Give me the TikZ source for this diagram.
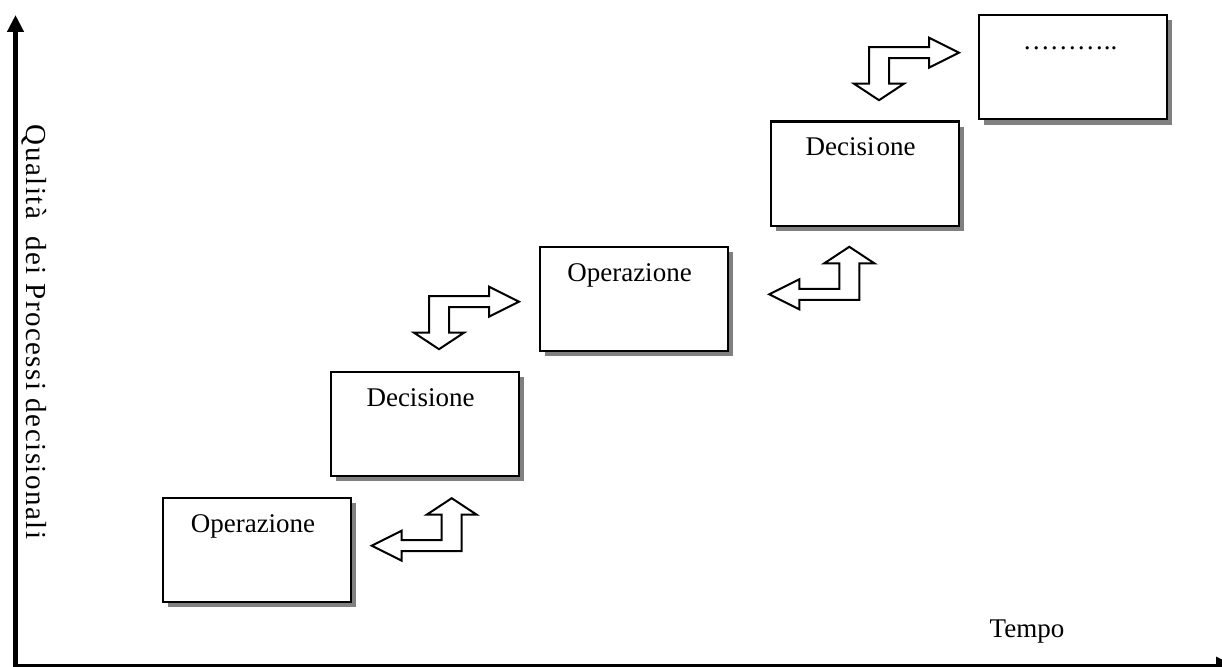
\documentclass[tikz,border=0pt]{standalone}
\usepackage{fontspec}
\setmainfont{Liberation Serif}
\usetikzlibrary{arrows.meta,shadows}
\definecolor{shadowgray}{RGB}{128,128,128}
\tikzset{
  stage/.style={draw=black, line width=2pt, fill=white, rectangle,
    minimum width=188pt, minimum height=104pt, inner sep=0pt, outer sep=0pt,
    drop shadow={shadow xshift=5pt, shadow yshift=-5pt, fill=shadowgray, opacity=1}},
  stagelabel/.style={anchor=base, inner sep=0pt, font=\fontsize{27}{32}\selectfont},
  axislabel/.style={inner sep=0pt, font=\fontsize{27}{32}\selectfont},
  axis/.style={draw=black, -{Triangle[length=17pt,width=16pt]}},
  arrowline/.style={draw=black, fill=white, line width=2pt, miter limit=10},
  bentarrow/.pic={
    \path[arrowline] (-80,0) -- (-50,-15) -- (-50,-5.5) -- (-10,-5.5) -- (-10,-31)
      -- (-25,-31) -- (0,-47.5) -- (25,-31) -- (10,-31) -- (10,5.5) -- (-50,5.5)
      -- (-50,15) -- cycle;
  }
}
\begin{document}
\begin{tikzpicture}[x=1pt, y=-1pt]
\useasboundingbox (0,0) rectangle (1222,666);

% axes
\coordinate (origin) at (15.5,665);
\coordinate (ytop) at (15.5,15);
\coordinate (xend) at (1233,665);
\draw[axis, line width=5pt] (origin) -- (ytop);
\draw[axis, line width=3pt] (13,665) -- (xend);
\node[axislabel, rotate=-90, font=\fontsize{29}{34}\selectfont] (ylab) at (34,332)
  {\addfontfeatures{LetterSpace=5}Qualità\ \ dei Processi decisionali};
\node[axislabel, anchor=base] (xlab) at (1027,637) {Tempo};

% stages
\node[stage] (op1)  at (257,550)    {};
\node[stage] (dec1) at (424.5,424)  {};
\node[stage] (op2)  at (633.5,299)  {};
\node[stage] (dec2) at (864.5,173.5) {};
\node[stage] (next) at (1073,67.5)  {};

\node[stagelabel] (op1t)  at ([xshift=-4pt,yshift=-34pt]op1.north)  {Operazione};
\node[stagelabel] (dec1t) at ([xshift=-4pt,yshift=-34pt]dec1.north) {Decisione};
\node[stagelabel] (op2t)  at ([xshift=-4pt,yshift=-34pt]op2.north)  {Operazione};
\node[stagelabel] (dec2t) at ([xshift=-4pt,yshift=-34pt]dec2.north) {Decisi\kern2pt one};
\node[stagelabel] (nextt) at ([xshift=-3pt,yshift=-34pt]next.north) {………..};

% bent double arrows between stages
\pic at (451.7,545.7) {bentarrow};
\pic[rotate=180] at (439,301.7) {bentarrow};
\pic at (849.3,294.3) {bentarrow};
\pic[rotate=180] at (879,52.7) {bentarrow};
\end{tikzpicture}
\end{document}
